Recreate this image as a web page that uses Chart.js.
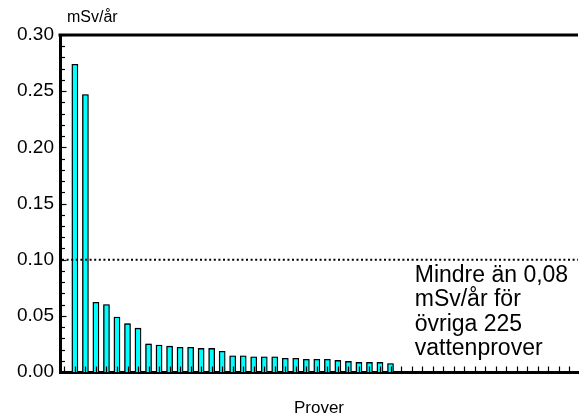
<!DOCTYPE html>
<html>
<head>
<meta charset="utf-8">
<script src="https://cdn.jsdelivr.net/npm/chart.js@4/dist/chart.umd.min.js"></script>
<style>
  html, body { margin: 0; padding: 0; background: #fff; }
  #grafico { display: block; }
</style>
</head>
<body>
<canvas id="grafico" width="579" height="419"></canvas>
<script>
// Prov 1..31 (resten under 0,08 mSv/år visas inte som staplar)
const prover = [1, 2, 3, 4, 5, 6, 7, 8, 9, 10, 11, 12, 13, 14, 15, 16,
  17, 18, 19, 20, 21, 22, 23, 24, 25, 26, 27, 28, 29, 30, 31];
const dos = [0.274, 0.247, 0.062, 0.060, 0.049, 0.043, 0.039, 0.025, 0.024, 0.023,
  0.022, 0.022, 0.021, 0.021, 0.0185, 0.0145, 0.0145, 0.0135, 0.0135, 0.0135,
  0.0122, 0.0122, 0.0113, 0.0113, 0.0113, 0.0103, 0.0094, 0.0085, 0.0085, 0.0085, 0.0076];
const yTicks = [0, 0.05, 0.10, 0.15, 0.20, 0.25, 0.30];
const gransvarde = 0.10;
const noteringRader = ["Mindre än 0,08", "mSv/år för", "övriga 225", "vattenprover"];
const enhet = "mSv/år";
const xTitel = "Prover";

const FONT = "'Liberation Sans', Arial, Helvetica, sans-serif";

const marker = {
  id: "marker",
  beforeDatasetsDraw(chart) {
    const { ctx } = chart;
    ctx.save();
    ctx.shadowColor = "rgba(0,0,0,0.45)";
    ctx.shadowOffsetX = -1;
    ctx.shadowOffsetY = 0;
    ctx.shadowBlur = 1;
  },
  afterDatasetsDraw(chart) {
    chart.ctx.restore();
  },
  afterDraw(chart) {
    const { ctx, chartArea, scales } = chart;
    const x = scales.x, y = scales.y;
    ctx.save();
    ctx.strokeStyle = "#000";

    // inre tickmarkeringar på y-axeln
    ctx.lineWidth = 1.2;
    for (let i = 0; i <= 30; i++) {
      const py = Math.round(y.getPixelForValue(i / 100)) + 0.5;
      const len = i % 5 === 0 ? 5 : 3.5;
      ctx.beginPath();
      ctx.moveTo(chartArea.left, py);
      ctx.lineTo(chartArea.left + 1.5 + len, py);
      ctx.stroke();
    }
    // inre tickmarkeringar på x-axeln
    for (let i = 0; i <= Math.floor(x.max); i++) {
      const px = Math.round(x.getPixelForValue(i)) + 0.5;
      ctx.beginPath();
      ctx.moveTo(px, chartArea.bottom);
      ctx.lineTo(px, chartArea.bottom - 5.5);
      ctx.stroke();
    }

    // övre ram
    ctx.lineWidth = 3;
    ctx.beginPath();
    ctx.moveTo(chartArea.left - 1.5, chartArea.top);
    ctx.lineTo(chartArea.right, chartArea.top);
    ctx.stroke();

    // streckad linje vid 0,10
    const gy = y.getPixelForValue(gransvarde);
    ctx.lineWidth = 2;
    ctx.setLineDash([2, 2.6]);
    ctx.beginPath();
    ctx.moveTo(chartArea.left + 2, gy);
    ctx.lineTo(chartArea.right, gy);
    ctx.stroke();
    ctx.setLineDash([]);

    // texter
    ctx.fillStyle = "#000";
    ctx.font = `16px ${FONT}`;
    ctx.textAlign = "left";
    ctx.textBaseline = "middle";
    ctx.fillText(enhet, chartArea.left + 7, 18);

    ctx.textAlign = "center";
    ctx.font = `17px ${FONT}`;
    ctx.fillText(xTitel, (chartArea.left + chartArea.right) / 2, chartArea.bottom + 36);

    ctx.textAlign = "left";
    ctx.font = `23px ${FONT}`;
    const nx = x.getPixelForValue(33.3);
    const ny = y.getPixelForValue(0.0862);
    noteringRader.forEach((rad, i) => ctx.fillText(rad, nx, ny + i * 24.5));
    ctx.restore();
  }
};

new Chart(document.getElementById("grafico"), {
  type: "bar",
  data: {
    datasets: [{
      data: prover.map((p, i) => ({ x: p, y: dos[i] })),
      backgroundColor: "#00ffff",
      borderColor: "#000",
      borderWidth: 1.3,
      barThickness: 6
    }]
  },
  options: {
    responsive: false,
    animation: false,
    events: [],
    layout: { padding: { top: 35, right: 1, left: 0, bottom: 0 } },
    plugins: { legend: { display: false }, tooltip: { enabled: false } },
    scales: {
      x: {
        type: "linear",
        offset: false,
        min: -0.42,
        max: 48.82,
        afterFit: s => { s.height = 47; },
        ticks: { display: false },
        grid: { display: false, drawTicks: false, offset: false },
        border: { display: true, color: "#000", width: 3 }
      },
      y: {
        min: 0,
        max: 0.30,
        afterFit: s => { s.width = 60; },
        afterBuildTicks: s => { s.ticks = yTicks.map(v => ({ value: v })); },
        ticks: {
          color: "#000",
          padding: 6,
          font: { family: FONT, size: 19 },
          callback: v => v.toFixed(2)
        },
        grid: { display: false, drawTicks: false },
        border: { display: true, color: "#000", width: 3 }
      }
    }
  },
  plugins: [marker]
});
</script>
</body>
</html>
